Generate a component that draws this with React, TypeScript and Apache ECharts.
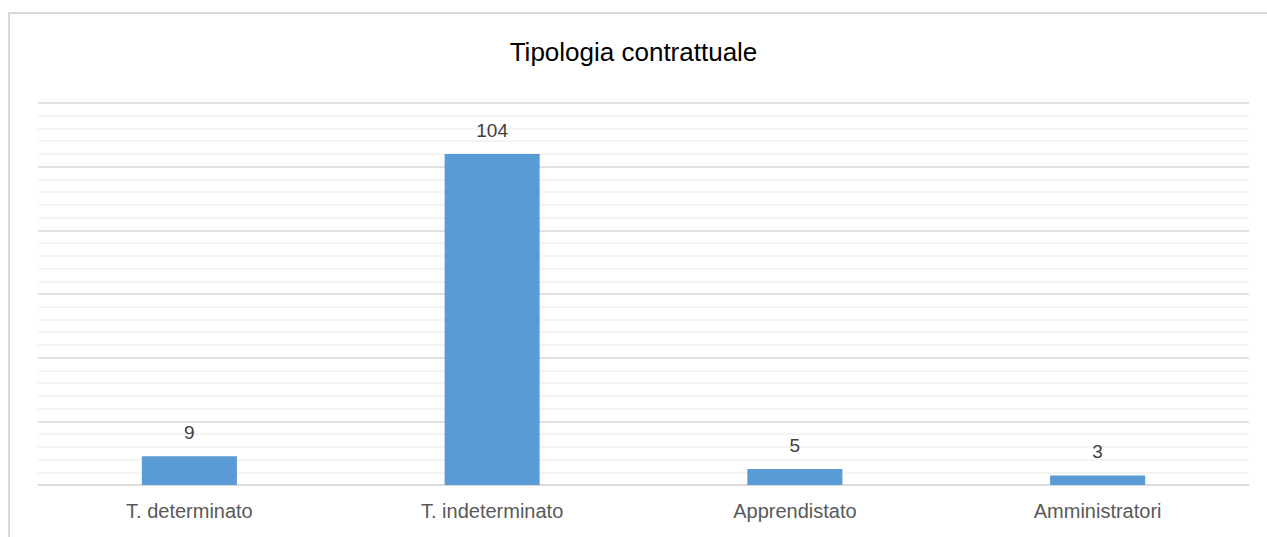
import React, { useEffect, useRef } from "react";
import * as echarts from "echarts";

const categories = ["T. determinato", "T. indeterminato", "Apprendistato", "Amministratori"];
const values = [9, 104, 5, 3];
const title = "Tipologia contrattuale";

const FONT = "'Liberation Sans', Arial, sans-serif";

export default function App() {
  const ref = useRef<HTMLDivElement>(null);
  useEffect(() => {
    if (!ref.current) return;
    const chart = echarts.init(ref.current, null, { renderer: "svg" });
    chart.setOption({
      animation: false,
      backgroundColor: "#ffffff",
      title: {
        text: title,
        left: "center",
        top: 34,
        textStyle: {
          fontFamily: FONT,
          fontSize: 26,
          fontWeight: "normal",
          color: "#000000",
        },
      },
      graphic: [
        {
          type: "rect",
          shape: { x: 9, y: 13, width: 1300, height: 600 },
          style: { fill: "none", stroke: "#d9d9d9", lineWidth: 2 },
          silent: true,
        },
      ],
      grid: { left: 38, right: 18, top: 103, bottom: 52 },
      xAxis: {
        type: "category",
        data: categories,
        axisLine: { show: true, lineStyle: { color: "#d9d9d9", width: 1.5 } },
        axisTick: { show: false },
        axisLabel: {
          color: "#595959",
          fontSize: 20,
          fontFamily: FONT,
          margin: 16,
        },
      },
      yAxis: {
        type: "value",
        min: 0,
        max: 120,
        interval: 20,
        axisLabel: { show: false },
        axisLine: { show: false },
        axisTick: { show: false },
        splitLine: { show: true, lineStyle: { color: "#d9d9d9", width: 1.5 } },
        minorTick: { show: false, splitNumber: 5 },
        minorSplitLine: { show: true, lineStyle: { color: "#f0f0f0", width: 1.5 } },
      },
      series: [
        {
          type: "bar",
          data: values,
          barWidth: "31.4%",
          itemStyle: { color: "#5b9bd5" },
          label: {
            show: true,
            position: "top",
            distance: 14,
            color: "#404040",
            fontSize: 19,
            fontFamily: FONT,
          },
        },
      ],
    });
    return () => chart.dispose();
  }, []);
  return (
    <div
      ref={ref}
      style={{ position: "absolute", left: 0, top: 0, width: 1267, height: 537 }}
    />
  );
}
